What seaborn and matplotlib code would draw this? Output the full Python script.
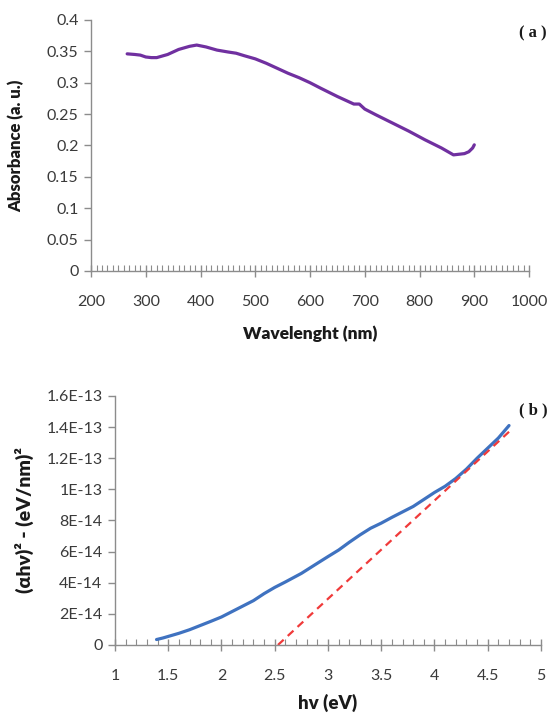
import numpy as np
import pandas as pd
import matplotlib
matplotlib.use("Agg")
import matplotlib.pyplot as plt
import seaborn as sns
from matplotlib.ticker import MultipleLocator

# ---------------- data ----------------
wavelength = [266, 280, 290, 300, 310, 320, 340, 360, 380, 393, 410, 430, 450, 465,
              480, 500, 520, 540, 560, 580, 600, 620, 650, 680, 690, 700, 720, 750,
              780, 810, 840, 852, 862, 872, 882, 890, 897, 900]
absorbance = [0.346, 0.345, 0.344, 0.341, 0.340, 0.340, 0.345, 0.353, 0.358, 0.360,
              0.357, 0.352, 0.349, 0.347, 0.343, 0.338, 0.331, 0.323, 0.315, 0.308,
              0.300, 0.291, 0.278, 0.266, 0.266, 0.258, 0.249, 0.236, 0.223, 0.209,
              0.196, 0.190, 0.185, 0.186, 0.187, 0.190, 0.196, 0.201]

hv = [1.39, 1.45, 1.5, 1.6, 1.7, 1.8, 1.9, 2.0, 2.1, 2.2, 2.3, 2.4, 2.5, 2.6, 2.75,
      2.9, 3.0, 3.1, 3.2, 3.3, 3.4, 3.5, 3.6, 3.7, 3.8, 3.9, 4.0, 4.1, 4.2, 4.3,
      4.4, 4.5, 4.6, 4.7]
ahv2 = [0.35e-14, 0.45e-14, 0.55e-14, 0.75e-14, 0.98e-14, 1.25e-14, 1.52e-14,
        1.8e-14, 2.15e-14, 2.5e-14, 2.85e-14, 3.3e-14, 3.7e-14, 4.05e-14, 4.6e-14,
        5.25e-14, 5.68e-14, 6.1e-14, 6.6e-14, 7.07e-14, 7.5e-14, 7.83e-14, 8.2e-14,
        8.55e-14, 8.9e-14, 9.35e-14, 9.8e-14, 1.02e-13, 1.07e-13, 1.13e-13,
        1.2e-13, 1.265e-13, 1.33e-13, 1.41e-13]
fit_x = [2.53, 4.70]
fit_y = [0.0, 1.37e-13]

a_xticks = [200, 300, 400, 500, 600, 700, 800, 900, 1000]
a_yticks = [0, 0.05, 0.1, 0.15, 0.2, 0.25, 0.3, 0.35, 0.4]
a_yticklabels = ["0", "0.05", "0.1", "0.15", "0.2", "0.25", "0.3", "0.35", "0.4"]
b_xticks = [1, 1.5, 2, 2.5, 3, 3.5, 4, 4.5, 5]
b_xticklabels = ["1", "1.5", "2", "2.5", "3", "3.5", "4", "4.5", "5"]
b_yticks = [0, 2e-14, 4e-14, 6e-14, 8e-14, 1e-13, 1.2e-13, 1.4e-13, 1.6e-13]
b_yticklabels = ["0", "2E-14", "4E-14", "6E-14", "8E-14", "1E-13", "1.2E-13",
                 "1.4E-13", "1.6E-13"]

# ---------------- style ----------------
sns.set_theme(style="white")
plt.rcParams["font.family"] = ["Lato", "DejaVu Sans"]

spine_col = "#8c8c8c"
tick_col = "#3a3a3a"
lab_col = "#1a1a1a"

fig = plt.figure(figsize=(5.5, 7.18), dpi=100)
ax1 = fig.add_axes([0.1655, 0.6226, 0.7964, 0.3496])
ax2 = fig.add_axes([0.2091, 0.1017, 0.7745, 0.3468])

dfa = pd.DataFrame({"wl": wavelength, "abs": absorbance})
sns.lineplot(data=dfa, x="wl", y="abs", ax=ax1, color="#7030A0", linewidth=2.3, sort=False)

dfb = pd.DataFrame({"hv": hv, "y": ahv2})
sns.lineplot(data=dfb, x="hv", y="y", ax=ax2, color="#3F72C0", linewidth=2.3, sort=False)
dff = pd.DataFrame({"x": fit_x, "y": fit_y})
sns.lineplot(data=dff, x="x", y="y", ax=ax2, color="#F03A3A", linewidth=1.6,
             linestyle=(0, (3.5, 2.5)))

for ax in (ax1, ax2):
    for s in ("top", "right"):
        ax.spines[s].set_visible(False)
    for s in ("left", "bottom"):
        ax.spines[s].set_color(spine_col)
        ax.spines[s].set_linewidth(1.0)
    ax.tick_params(which="both", bottom=True, left=True, top=False, right=False)
    ax.tick_params(axis="y", which="major", direction="out", length=5, width=1,
                   color=spine_col, labelsize=11.5, labelcolor=tick_col, pad=4)
    ax.tick_params(axis="x", which="major", direction="inout", length=8, width=1,
                   color=spine_col, labelsize=11.5, labelcolor=tick_col, pad=13)
    ax.tick_params(axis="x", which="minor", direction="in", length=4, width=0.8,
                   color=spine_col)
    ax.set_facecolor("white")

ax1.set_xlim(200, 1000)
ax1.set_ylim(0, 0.4)
ax1.set_xticks(a_xticks)
ax1.set_yticks(a_yticks)
ax1.set_yticklabels(a_yticklabels)
ax1.xaxis.set_minor_locator(MultipleLocator(10))
ax1.set_xlabel("Wavelenght (nm)", fontsize=12.5, fontweight="heavy", color=lab_col, labelpad=12)
ax1.set_ylabel("Absorbance (a. u.)", fontsize=12, fontweight="heavy", color=lab_col, labelpad=16)

ax2.set_xlim(1, 5)
ax2.set_ylim(0, 1.6e-13)
ax2.set_xticks(b_xticks)
ax2.set_xticklabels(b_xticklabels)
ax2.set_yticks(b_yticks)
ax2.set_yticklabels(b_yticklabels)
ax2.xaxis.set_minor_locator(MultipleLocator(0.1))
ax2.set_xlabel("hv (eV)", fontsize=13.5, fontweight="heavy", color=lab_col, labelpad=8)
ax2.set_ylabel("(αhν)² - (eV/nm)²", fontsize=14, fontweight="heavy", color=lab_col, labelpad=9)

fig.text(0.968, 0.954, "( a )", fontsize=12, fontweight="bold",
         family="Liberation Serif", ha="center", va="center", color=lab_col)
fig.text(0.970, 0.429, "( b )", fontsize=12, fontweight="bold",
         family="Liberation Serif", ha="center", va="center", color=lab_col)

fig.savefig("out.png", dpi=100, facecolor="white")
